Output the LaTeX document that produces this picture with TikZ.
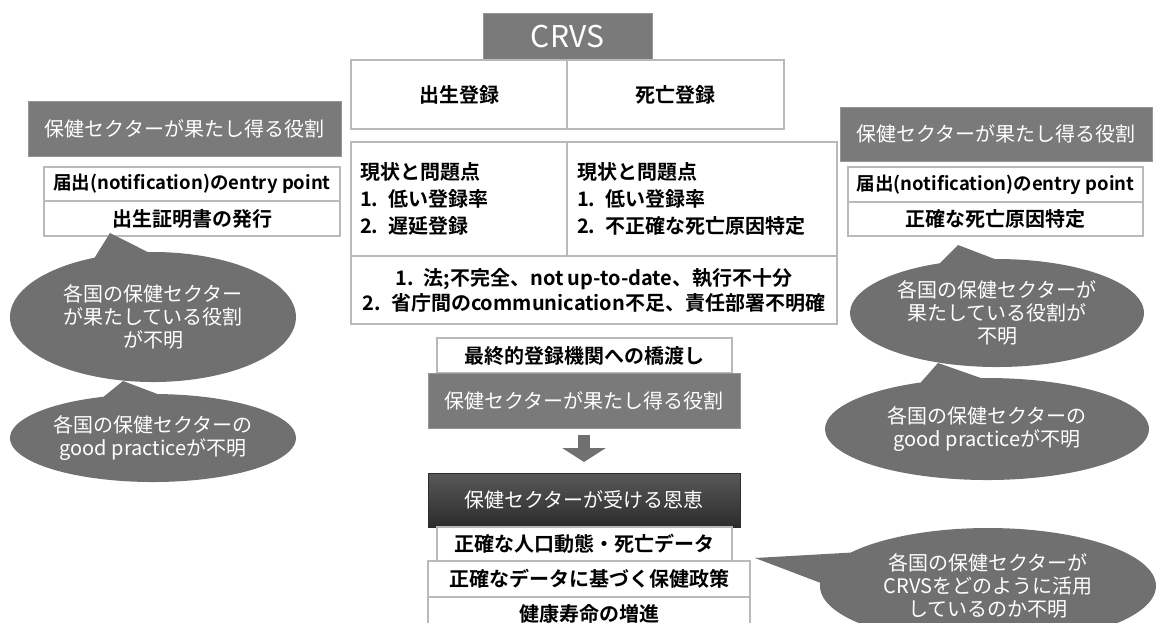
\documentclass[tikz,border=0pt]{standalone}
\usepackage{fontspec}
\setmainfont{Noto Sans CJK JP}[BoldFont={Noto Sans CJK JP Bold}]
\usetikzlibrary{shapes.callouts,arrows.meta}
\definecolor{hdgray}{RGB}{122,122,122}
\definecolor{bubgray}{RGB}{112,112,112}
\definecolor{edgegray}{RGB}{185,185,185}
\definecolor{bentop}{RGB}{88,88,88}
\definecolor{benbot}{RGB}{44,44,44}
\tikzset{every node/.style={inner sep=0pt, outer sep=0pt, font=\fontsize{20}{27}\selectfont},
  cell/.style={draw=edgegray, line width=1.2pt, fill=white, font=\bfseries\fontsize{20}{27}\selectfont},
  smallcell/.style={cell, font=\bfseries\fontsize{18.5}{27}\selectfont},
  head/.style={draw=hdgray!80!white, line width=0.8pt, fill=hdgray, text=white},
  bubble/.style={ellipse callout, fill=bubgray, text=white, align=center, callout pointer arc=22, font=\fontsize{20}{23}\selectfont},
  bigarrow/.style={-{Triangle[width=43pt,length=14pt]}, line width=12pt, draw=bubgray}}

\begin{document}
\begin{tikzpicture}[x=1pt,y=-1pt]
  \useasboundingbox (0,0) rectangle (1156,622);
  \clip (0,0) rectangle (1156,622);

  \node[head, minimum width=169pt, minimum height=47pt, font=\fontsize{30}{30}\selectfont] (crvs) at (567.5,36.5) {CRVS};
  \node[cell, minimum width=216pt, minimum height=69pt] (birth) at (459,94.5) {出生登録};
  \node[cell, minimum width=217pt, minimum height=69pt] (death) at (675.5,94.5) {死亡登録};
  \node[cell, minimum width=216pt, minimum height=114pt, text width=198pt, align=left] (birthprob) at (459,199) {現状と問題点\\1.\enspace 低い登録率\\2.\enspace 遅延登録};
  \node[cell, minimum width=270pt, minimum height=114pt, text width=250pt, align=left] (deathprob) at (702,199) {現状と問題点\\1.\enspace 低い登録率\\2.\enspace 不正確な死亡原因特定};
  \node[cell, minimum width=486pt, minimum height=68pt, align=center, font=\bfseries\fontsize{20}{25}\selectfont] (law) at (594,290) {1.\enspace 法;不完全、not up-to-date、執行不十分\\2.\enspace 省庁間のcommunication不足、責任部署不明確};

  \node[head, minimum width=313pt, minimum height=55pt]      (lhead)  at (184.5,128.5) {保健セクターが果たし得る役割};
  \node[smallcell, minimum width=296pt, minimum height=34pt] (lrole1) at (192,184)     {届出(notification)のentry point};
  \node[cell, minimum width=296pt, minimum height=35pt]      (lrole2) at (192,218.5)   {出生証明書の発行};

  \node[head, minimum width=312pt, minimum height=54pt]      (rhead)  at (996,134)     {保健セクターが果たし得る役割};
  \node[smallcell, minimum width=295pt, minimum height=35pt] (rrole1) at (995.5,184.5) {届出(notification)のentry point};
  \node[cell, minimum width=295pt, minimum height=34pt]      (rrole2) at (995.5,219)   {正確な死亡原因特定};

  \node[cell, minimum width=295pt, minimum height=35pt] (bridge)  at (584.5,355.5) {最終的登録機関への橋渡し};
  \node[head, minimum width=312pt, minimum height=55pt] (role)    at (584,400.5)   {保健セクターが果たし得る役割};
  \node[head, top color=bentop, bottom color=benbot, draw=benbot, minimum width=312pt, minimum height=54pt] (benefit) at (584,500) {保健セクターが受ける恩恵};
  \node[cell, minimum width=295pt, minimum height=34pt] (data1)   at (584.5,544)   {正確な人口動態・死亡データ};
  \node[cell, minimum width=322pt, minimum height=36pt] (data2)   at (589,579)     {正確なデータに基づく保健政策};
  \node[cell, minimum width=322pt, minimum height=34pt] (data3)   at (589,614)     {健康寿命の増進};

  \draw[bigarrow, shorten <=7pt, shorten >=11pt] (role.south) -- (benefit.north);

  \coordinate (ltip1) at (110,233);
  \coordinate (ltip2) at (123,381);
  \coordinate (rtip1) at (958,245);
  \coordinate (rtip2) at (938,363);
  \coordinate (btip)  at (755,558);

  \node[bubble, minimum width=286pt, minimum height=130pt, callout absolute pointer={(ltip1)}] (lgap1) at (153,317) {各国の保健セクター\\が果たしている役割\\が不明};
  \node[bubble, minimum width=286pt, minimum height=88pt,  callout absolute pointer={(ltip2)}] (lgap2) at (153,438) {各国の保健セクターの\\good practiceが不明};
  \node[bubble, minimum width=294pt, minimum height=108pt, callout absolute pointer={(rtip1)}] (rgap1) at (997,313) {各国の保健セクターが\\果たしている役割が\\不明};
  \node[bubble, minimum width=324pt, minimum height=102pt, callout absolute pointer={(rtip2)}] (rgap2) at (987,429) {各国の保健セクターの\\good practiceが不明};
  \node[bubble, callout pointer arc=32, minimum width=336pt, minimum height=116pt, callout absolute pointer={(btip)}] (usegap) at (988,586) {各国の保健セクターが\\CRVSをどのように活用\\しているのか不明};
\end{tikzpicture}
\end{document}
